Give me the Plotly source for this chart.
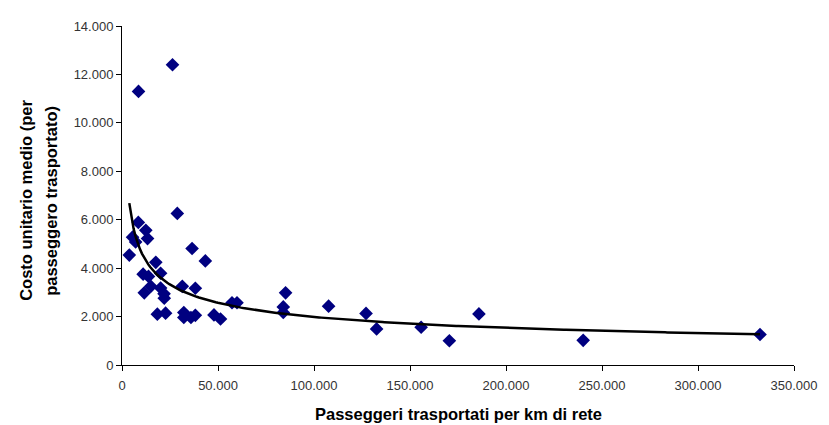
import numpy as np
import plotly.graph_objects as go

# Passeggeri trasportati per km di rete
passeggeri_km = [
    8600, 26300, 28800, 8500, 12400, 13300, 5500, 7100, 3800, 36500,
    43400, 17600, 11000, 13800, 20100, 15000, 11600, 20100, 21900, 22000,
    31400, 38200, 18400, 22700, 32200, 32200, 35900, 38200, 47900, 51300,
    57300, 59900, 85200, 84000, 84000, 107600, 127100, 132600, 155800, 170500,
    185900, 240200, 332300,
]
# Costo unitario medio (per passeggero trasportato)
costo_unitario = [
    11300, 12400, 6260, 5890, 5560, 5220, 5280, 5080, 4540, 4810,
    4300, 4240, 3750, 3660, 3790, 3250, 2980, 3180, 2940, 2760,
    3250, 3170, 2100, 2140, 2170, 1960, 1960, 2050, 2070, 1900,
    2570, 2570, 2980, 2400, 2170, 2430, 2130, 1490, 1560, 1000,
    2110, 1020, 1260,
]

x_ticks = [0, 50000, 100000, 150000, 200000, 250000, 300000, 350000]
y_ticks = [0, 2000, 4000, 6000, 8000, 10000, 12000, 14000]

# Power trendline (least squares in log-log space, as Excel does)
lx = np.log(np.array(passeggeri_km, dtype=float))
ly = np.log(np.array(costo_unitario, dtype=float))
b, ln_a = np.polyfit(lx, ly, 1)
trend_x = np.linspace(min(passeggeri_km), max(passeggeri_km), 300)
trend_y = np.exp(ln_a) * trend_x ** b

fig = go.Figure()
fig.add_trace(go.Scatter(
    x=passeggeri_km, y=costo_unitario, mode="markers",
    marker=dict(symbol="diamond", size=10.5, color="#000080",
                line=dict(width=0)),
    showlegend=False, hoverinfo="x+y",
))
fig.add_trace(go.Scatter(
    x=trend_x, y=trend_y, mode="lines",
    line=dict(color="black", width=2.5),
    showlegend=False, hoverinfo="skip",
))

tick_font = dict(family="Liberation Sans, Arial, sans-serif", size=13, color="#333333")
title_font = dict(family="Liberation Sans, Arial, sans-serif", size=16.5, color="black")

fig.update_layout(
    width=821, height=417,
    margin=dict(l=114, r=29, t=11, b=60),
    paper_bgcolor="white", plot_bgcolor="white",
    separators=",.",
    xaxis=dict(
        range=[0, 350000], tickvals=x_ticks, tickformat=",d",
        showgrid=False, zeroline=False, showline=True, linecolor="black",
        linewidth=1, ticks="outside", ticklen=5, tickcolor="black",
        tickfont=tick_font, ticklabelstandoff=3,
    ),
    yaxis=dict(
        range=[0, 14000], tickvals=y_ticks, tickformat=",d",
        showgrid=False, zeroline=False, showline=True, linecolor="black",
        linewidth=1, ticks="outside", ticklen=5, tickcolor="black",
        tickfont=tick_font,
    ),
    annotations=[
        dict(text="<b>Passeggeri trasportati per km di rete</b>",
             xref="paper", yref="paper", x=0.5, y=0, yshift=-49,
             xanchor="center", yanchor="middle", showarrow=False,
             font=title_font),
        dict(text="<b>Costo unitario medio (per</b>",
             xref="paper", yref="paper", x=0, xshift=-95.6, y=0.4855,
             xanchor="center", yanchor="middle", textangle=-90,
             showarrow=False, font=title_font),
        dict(text="<b>passeggero trasportato)</b>",
             xref="paper", yref="paper", x=0, xshift=-70.6, y=0.4855,
             xanchor="center", yanchor="middle", textangle=-90,
             showarrow=False, font=title_font),
    ],
)

fig.write_html("out.html")
